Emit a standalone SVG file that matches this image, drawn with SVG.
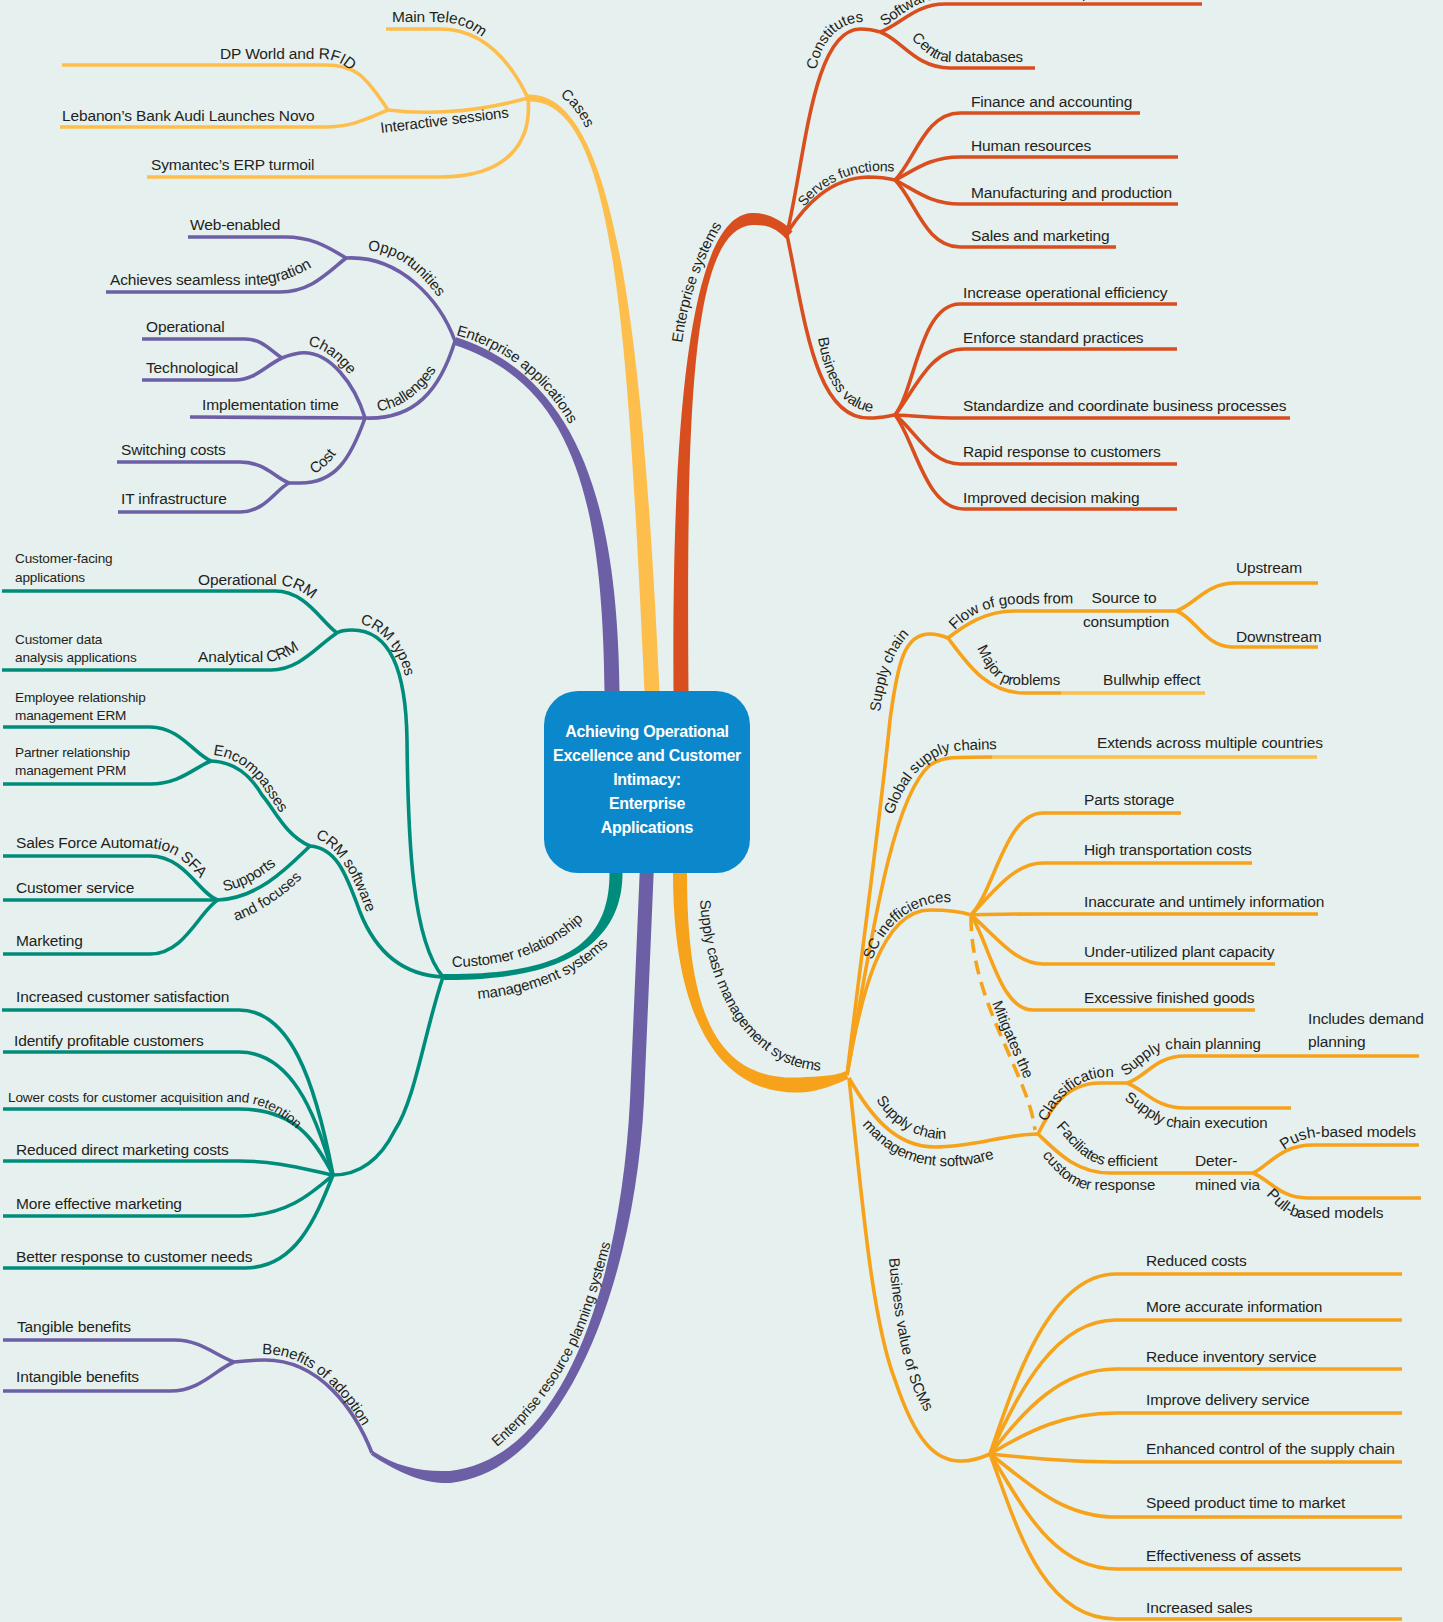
<svg xmlns="http://www.w3.org/2000/svg" width="1443" height="1622" viewBox="0 0 1443 1622">
<style>
  text { font-family: "Liberation Sans", Arial, sans-serif; font-size: 15.5px; fill: #231f20; letter-spacing: -0.15px; }
  .lb { font-size: 15px; }
  .sm { font-size: 13.6px; }
  .root { font-weight: bold; font-size: 16px; fill: #ffffff; text-anchor: middle; letter-spacing: -0.3px; }
  .mid { text-anchor: middle; }
  .ln { fill: none; stroke-width: 3.6; }
  .y { stroke: #fdbe4b; }
  .r { stroke: #d94e1f; }
  .p { stroke: #6c5fa6; }
  .t { stroke: #008c7a; }
  .o { stroke: #f7a21b; }
  .dash { stroke-dasharray: 14 8; }
</style>
<defs>
  <path id="tp-cases" d="M560,96 C572,104 582,118 590,137 L598,157"/>
  <path id="tp-maintelecom" d="M392,22 L438,22 C470,22 492,40 510,72 L518,88"/>
  <path id="tp-dpworld" d="M220,59 L322,59 C335,59 345,65 352,72 L360,80"/>
  <path id="tp-interactive" d="M381,133 L520,116"/>
  <path id="tp-ea" d="M456,335 Q530,355 570,425 L590,465"/>
  <path id="tp-opp" d="M368,251 C394,250 422,270 448,312 L457,330"/>
  <path id="tp-chal" d="M378,411 C400,409 425,392 442,360 L450,342"/>
  <path id="tp-change" d="M308,346 C325,348 342,362 362,392 L372,410"/>
  <path id="tp-cost" d="M314,474 C326,468 336,456 345,440 L352,428"/>
  <path id="tp-achieves" d="M110,285 L250,285 C275,285 295,278 320,262 L330,255"/>
  <path id="tp-es" d="M682,343 C688,300 700,262 724,222 L735,208"/>
  <path id="tp-const" d="M816,70 C822,42 836,24 861,22 L891,23"/>
  <path id="tp-soft" d="M884,26 C900,18 915,-1 945,-2 L1230,-2"/>
  <path id="tp-central" d="M911,39 C922,47 930,62 952,62 L1045,62"/>
  <path id="tp-serves" d="M804,207 C819,189 840,174 873,171 L912,172"/>
  <path id="tp-bv" d="M818,338 C824,378 840,408 872,412 L902,411"/>
  <path id="tp-crm1" d="M452,967 C505,966 555,955 598,905 L606,893"/>
  <path id="tp-crm2" d="M478,999 C533,994 583,974 613,939 L621,928"/>
  <path id="tp-erp" d="M497,1447 C532,1418 570,1370 590,1312 C600,1282 608,1255 616,1222 L620,1205"/>
  <path id="tp-boa" d="M262,1354 C295,1354 320,1370 345,1400 C358,1418 366,1432 374,1446 L380,1458"/>
  <path id="tp-crmtypes" d="M360,624 C378,627 394,645 402,665 L412,700"/>
  <path id="tp-opcrm" d="M198,585 L275,585 C295,585 310,595 325,612 L332,622"/>
  <path id="tp-ancrm" d="M198,662 L262,662 C278,662 290,657 305,645 L312,638"/>
  <path id="tp-encomp" d="M213,755 C235,757 252,770 265,790 C275,805 283,818 292,827 L300,838"/>
  <path id="tp-crmsw" d="M315,838 C335,845 350,870 362,900 C367,915 372,925 382,935 L390,943"/>
  <path id="tp-supports" d="M224,891 C244,888 264,876 291,853 L299,845"/>
  <path id="tp-andfoc" d="M236,921 C258,913 283,898 309,871 L317,862"/>
  <path id="tp-sfa" d="M16,848 L148,848 C170,849 185,858 205,885 L212,896"/>
  <path id="tp-lower" d="M8,1102 L235,1102 C255,1102 275,1108 300,1132 L308,1142"/>
  <path id="tp-scm" d="M700,900 C703,960 725,1020 765,1050 C785,1065 805,1071 830,1071 L845,1071"/>
  <path id="tp-sc" d="M880,712 C884,680 893,648 912,632 C920,626 928,626 940,627 L950,627"/>
  <path id="tp-flow" d="M955,630 C967,617 985,606 1015,604 L1100,603"/>
  <path id="tp-major" d="M977,648 C985,665 995,684 1012,685 L1090,685"/>
  <path id="tp-global" d="M893,815 C902,790 915,768 938,756 C948,751 958,749 1030,749"/>
  <path id="tp-scineff" d="M872,960 C882,935 898,912 930,904 C948,900 962,903 978,909 L990,914"/>
  <path id="tp-scmsw1" d="M876,1100 C888,1118 905,1136 940,1139 L970,1138"/>
  <path id="tp-scmsw2" d="M862,1125 C880,1145 900,1163 940,1166 C965,1167 985,1162 1003,1155 L1012,1152"/>
  <path id="tp-mitig" d="M992,1003 C1002,1030 1014,1055 1027,1085 L1034,1100"/>
  <path id="tp-class" d="M1046,1122 C1058,1100 1076,1077 1108,1077 L1143,1077"/>
  <path id="tp-scplan" d="M1125,1076 C1140,1068 1150,1049 1175,1049 L1290,1049"/>
  <path id="tp-scexec" d="M1124,1100 C1140,1108 1152,1126 1178,1128 L1295,1128"/>
  <path id="tp-facil" d="M1056,1127 C1069,1140 1082,1165 1112,1166 L1182,1166"/>
  <path id="tp-custresp" d="M1042,1156 C1055,1170 1070,1190 1095,1190 L1170,1190"/>
  <path id="tp-push" d="M1284,1150 C1294,1143 1304,1137 1324,1137 L1434,1137"/>
  <path id="tp-pull" d="M1266,1195 C1275,1203 1283,1215 1300,1218 L1405,1218"/>
  <path id="tp-bvscm" d="M889,1258 C893,1310 901,1355 913,1388 C923,1412 935,1428 952,1440 L962,1446"/>
</defs>

<rect width="1443" height="1622" fill="#e6f0ee"/>

<g id="connectors">
  <!-- tapered main branches -->
  <path fill="#fdbe4b" d="M659.5,700 L659.5,691 C642.5,329.6 614.9,91.5 527.9,94.5 L528.1,101.5 C615.1,98.5 627.5,330.4 644.5,691 L644.5,700 Z"/>
  <path fill="#d94e1f" d="M688.5,700 L688.5,691 C686.5,420 690.3,228 752.3,225 C768.4,224 778.5,230.5 785.5,238.5 L792.5,231.5 C785.5,222.5 767.6,212 751.7,213 C689.7,216 671.5,420 673.5,691 L673.5,700 Z"/>
  <path fill="#6c5fa6" d="M619.5,700 L619.5,691 C617.5,500 576.2,376.2 456.2,337.2 L453.8,344.8 C573.8,383.8 602.5,500 604.5,691 L604.5,700 Z"/>
  <path fill="#008c7a" d="M609.5,865 L609.5,873 C609.5,940 570,975 443,974 L443,980 C570,981 622.5,940 622.5,873 L622.5,865 Z"/>
  <path fill="#6c5fa6" d="M640,865 L630,1100 C621,1280 564.4,1459 449.6,1471 C419.8,1472 396.1,1466.3 373.1,1451.3 L370.9,1454.7 C393.9,1469.7 420.2,1484 450.4,1483 C565.6,1471 635,1280 644,1100 L654,865 Z"/>
  <path fill="#f7a21b" d="M673,865 L673,873 C673,1020 720.3,1095.5 800.3,1092.5 C820.4,1091.5 836.5,1083.7 848.5,1078.7 L845.5,1071.3 C833.5,1076.3 819.6,1076.5 799.7,1077.5 C719.7,1080.5 687,1020 687,873 L687,865 Z"/>

  <!-- cases -->
  <path class="ln y" d="M528,98 C505,50 475,29 440,29 L386,29"/>
  <path class="ln y" d="M528,98 C470,114 420,114 388,110"/>
  <path class="ln y" d="M388,110 C365,75 355,65 325,65 L62,65"/>
  <path class="ln y" d="M388,110 C365,120 350,127 325,127 L60,127"/>
  <path class="ln y" d="M528,98 C532,140 510,177 440,177 L147,177"/>

  <!-- enterprise applications -->
  <path class="ln p" d="M455,341 C440,300 400,255 346,258"/>
  <path class="ln p" d="M346,258 C325,245 310,237 285,237 L188,237"/>
  <path class="ln p" d="M346,258 C325,275 310,292 280,292 L106,292"/>
  <path class="ln p" d="M455,341 C440,390 415,420 365,418"/>
  <path class="ln p" d="M365,418 C355,385 330,350 300,353 C292,354 287,356 282,358"/>
  <path class="ln p" d="M282,358 C270,350 262,339 245,339 L142,339"/>
  <path class="ln p" d="M282,358 C265,366 255,380 235,380 L142,380"/>
  <path class="ln p" d="M365,418 L190,417"/>
  <path class="ln p" d="M365,418 C350,460 335,483 300,483 L289,483"/>
  <path class="ln p" d="M289,483 C275,478 265,462 240,462 L117,462"/>
  <path class="ln p" d="M289,483 C275,490 265,512 240,512 L118,512"/>

  <!-- enterprise systems -->
  <path class="ln r" d="M787,233 C805,160 812,30 860,29 C868,29 874,30 880,32"/>
  <path class="ln r" d="M880,32 C900,25 915,4 945,4 L1202,4"/>
  <path class="ln r" d="M880,32 C900,38 915,68 950,68 L1035,68"/>
  <path class="ln r" d="M787,233 C805,205 830,178 868,177 C878,177 887,178 895,180"/>
  <path class="ln r" d="M895,180 C915,160 925,113 960,113 L1140,113"/>
  <path class="ln r" d="M895,180 C915,170 930,157 960,157 L1178,157"/>
  <path class="ln r" d="M895,180 C915,190 930,204 960,204 L1178,204"/>
  <path class="ln r" d="M895,180 C915,200 925,247 960,247 L1116,247"/>
  <path class="ln r" d="M787,235 C805,320 815,420 870,418 C880,418 888,416 895,415"/>
  <path class="ln r" d="M895,415 C915,390 920,304 960,304 L1177,304"/>
  <path class="ln r" d="M895,415 C915,390 930,349 964,349 L1177,349"/>
  <path class="ln r" d="M895,415 C920,416 935,418 960,418 L1290,418"/>
  <path class="ln r" d="M895,415 C915,430 930,464 960,464 L1177,464"/>
  <path class="ln r" d="M895,415 C915,440 925,509 964,509 L1177,509"/>

  <!-- customer relationship management -->
  <path class="ln t" d="M443,977 C412,940 408,840 407,740 C406,670 390,630 352,630 C345,630 340,631 337,633"/>
  <path class="ln t" d="M337,633 C320,620 305,591 275,591 L2,591"/>
  <path class="ln t" d="M337,633 C318,645 300,670 271,670 L2,670"/>
  <path class="ln t" d="M443,977 C400,975 375,950 360,912 C345,870 335,848 310,846"/>
  <path class="ln t" d="M310,846 C285,835 275,810 262,795 C250,775 235,762 211,761"/>
  <path class="ln t" d="M211,761 C195,755 180,727 150,727 L3,727"/>
  <path class="ln t" d="M211,761 C195,767 180,784 150,784 L3,784"/>
  <path class="ln t" d="M310,846 C290,865 260,898 218,900"/>
  <path class="ln t" d="M218,900 C200,895 185,856 150,856 L3,856"/>
  <path class="ln t" d="M218,900 L3,900"/>
  <path class="ln t" d="M218,900 C200,910 185,954 150,954 L3,954"/>
  <path class="ln t" d="M443,977 C425,1030 415,1100 395,1130 C380,1160 360,1175 333,1175"/>
  <path class="ln t" d="M333,1175 C315,1080 290,1010 239,1010 L2,1010"/>
  <path class="ln t" d="M333,1175 C315,1110 290,1052 239,1052 L3,1052"/>
  <path class="ln t" d="M333,1175 C315,1140 295,1109 239,1109 L3,1109"/>
  <path class="ln t" d="M333,1175 C300,1168 275,1161 239,1161 L3,1161"/>
  <path class="ln t" d="M333,1175 C310,1195 285,1216 239,1216 L3,1216"/>
  <path class="ln t" d="M333,1175 C315,1220 295,1268 245,1268 L3,1268"/>

  <!-- enterprise resource planning -->
  <path class="ln p" d="M372,1453 C355,1410 320,1360 265,1360 C250,1360 242,1361 234,1362"/>
  <path class="ln p" d="M234,1362 C215,1355 200,1340 175,1340 L3,1340"/>
  <path class="ln p" d="M234,1362 C215,1370 200,1391 170,1391 L3,1391"/>

  <!-- supply chain management -->
  <path class="ln o" d="M847,1075 C862,950 880,820 890,720 C898,660 905,634 930,634 C938,634 943,636 948,638"/>
  <path class="ln o" d="M948,638 C965,625 985,611 1015,611 L1176,611"/>
  <path class="ln o" d="M1176,611 C1195,605 1205,583 1236,583 L1318,583"/>
  <path class="ln o" d="M1176,611 C1195,617 1205,647 1232,647 L1318,647"/>
  <path class="ln o" d="M948,638 C965,660 985,693 1024,693 L1061,693"/>
  <path class="ln y" d="M1061,693 L1205,693"/>
  <path class="ln o" d="M847,1075 C870,950 890,800 930,765 C942,757 950,757 992,757"/>
  <path class="ln y" d="M992,757 L1317,757"/>
  <path class="ln o" d="M847,1075 C860,1000 880,910 930,910 C950,910 962,912 971,915"/>
  <path class="ln o" d="M971,915 C995,890 1005,813 1043,813 L1181,813"/>
  <path class="ln o" d="M971,915 C995,890 1015,863 1043,863 L1252,863"/>
  <path class="ln o" d="M971,915 C990,914 1000,914 1043,914 L1318,914"/>
  <path class="ln o" d="M971,915 C995,935 1015,964 1043,964 L1275,964"/>
  <path class="ln o" d="M971,915 C990,945 1000,1010 1033,1010 L1255,1010"/>
  <path class="ln o dash" d="M971,917 C971,960 985,1000 1005,1045 C1020,1080 1032,1105 1035,1130"/>
  <path class="ln o" d="M849,1078 C870,1115 895,1147 935,1147 C975,1147 1005,1134 1038,1134"/>
  <path class="ln o" d="M1038,1134 C1050,1110 1065,1083 1100,1083 L1127,1083"/>
  <path class="ln o" d="M1127,1083 C1145,1078 1155,1056 1185,1056 L1419,1056"/>
  <path class="ln o" d="M1127,1083 C1145,1090 1155,1108 1185,1108 L1291,1108"/>
  <path class="ln o" d="M1038,1134 C1055,1150 1075,1173 1110,1173 L1253,1173"/>
  <path class="ln o" d="M1253,1173 C1270,1165 1280,1145 1313,1145 L1419,1145"/>
  <path class="ln o" d="M1253,1173 C1270,1180 1280,1198 1307,1198 L1421,1198"/>
  <path class="ln o" d="M849,1078 C862,1200 872,1320 895,1380 C915,1440 935,1462 962,1461 C975,1461 983,1457 990,1454"/>
  <path class="ln o" d="M990,1454 C1015,1380 1050,1274 1116,1274 L1402,1274"/>
  <path class="ln o" d="M990,1454 C1020,1390 1055,1320 1116,1320 L1402,1320"/>
  <path class="ln o" d="M990,1454 C1025,1410 1060,1369 1116,1369 L1402,1369"/>
  <path class="ln o" d="M990,1454 C1030,1430 1065,1413 1116,1413 L1402,1413"/>
  <path class="ln o" d="M990,1454 C1030,1458 1070,1462 1116,1462 L1402,1462"/>
  <path class="ln o" d="M990,1454 C1025,1480 1060,1517 1116,1517 L1402,1517"/>
  <path class="ln o" d="M990,1454 C1020,1500 1050,1569 1116,1569 L1402,1569"/>
  <path class="ln o" d="M990,1454 C1015,1520 1040,1619 1116,1619 L1402,1619"/>
</g>

<g id="node-root">
  <rect x="544" y="691" width="206" height="182" rx="34" fill="#0a88cb"/>
  <text class="root" x="647" y="737">Achieving Operational</text>
  <text class="root" x="647" y="761">Excellence and Customer</text>
  <text class="root" x="647" y="785">Intimacy:</text>
  <text class="root" x="647" y="809">Enterprise</text>
  <text class="root" x="647" y="833">Applications</text>
</g>

<!-- cases -->
<g id="node-cases"><text class="lb"><textPath href="#tp-cases">Cases</textPath></text></g>
<g id="node-main-telecom"><text><textPath href="#tp-maintelecom">Main Telecom</textPath></text></g>
<g id="node-interactive"><text class="lb"><textPath href="#tp-interactive">Interactive sessions</textPath></text></g>
<g id="node-dp-world"><text><textPath href="#tp-dpworld">DP World and RFID</textPath></text></g>
<g id="node-lebanon"><text x="62" y="121">Lebanon’s Bank Audi Launches Novo</text></g>
<g id="node-symantec"><text x="151" y="170">Symantec’s ERP turmoil</text></g>

<!-- enterprise applications -->
<g id="node-ea"><text class="lb"><textPath href="#tp-ea">Enterprise applications</textPath></text></g>
<g id="node-opportunities"><text class="lb"><textPath href="#tp-opp">Opportunities</textPath></text></g>
<g id="node-web-enabled"><text x="190" y="230">Web-enabled</text></g>
<g id="node-seamless"><text><textPath href="#tp-achieves">Achieves seamless integration</textPath></text></g>
<g id="node-challenges"><text class="lb"><textPath href="#tp-chal">Challenges</textPath></text></g>
<g id="node-change"><text class="lb"><textPath href="#tp-change">Change</textPath></text></g>
<g id="node-operational"><text x="146" y="332">Operational</text></g>
<g id="node-technological"><text x="146" y="373">Technological</text></g>
<g id="node-implementation"><text x="202" y="410">Implementation time</text></g>
<g id="node-cost"><text class="lb"><textPath href="#tp-cost">Cost</textPath></text></g>
<g id="node-switching"><text x="121" y="455">Switching costs</text></g>
<g id="node-it-infra"><text x="121" y="504">IT infrastructure</text></g>

<!-- enterprise systems -->
<g id="node-es"><text class="lb"><textPath href="#tp-es">Enterprise systems</textPath></text></g>
<g id="node-constitutes"><text class="lb"><textPath href="#tp-const">Constitutes</textPath></text></g>
<g id="node-software"><text class="lb"><textPath href="#tp-soft">Software modules for business processes</textPath></text></g>
<g id="node-central-db"><text class="lb"><textPath href="#tp-central">Central databases</textPath></text></g>
<g id="node-serves"><text style="font-size:14px"><textPath href="#tp-serves">Serves functions</textPath></text></g>
<g id="node-finance"><text x="971" y="107">Finance and accounting</text></g>
<g id="node-hr"><text x="971" y="151">Human resources</text></g>
<g id="node-manufacturing"><text x="971" y="198">Manufacturing and production</text></g>
<g id="node-sales"><text x="971" y="241">Sales and marketing</text></g>
<g id="node-es-value"><text class="lb"><textPath href="#tp-bv">Business value</textPath></text></g>
<g id="node-efficiency"><text x="963" y="298">Increase operational efficiency</text></g>
<g id="node-practices"><text x="963" y="343">Enforce standard practices</text></g>
<g id="node-standardize"><text x="963" y="411">Standardize and coordinate business processes</text></g>
<g id="node-rapid"><text x="963" y="457">Rapid response to customers</text></g>
<g id="node-decision"><text x="963" y="503">Improved decision making</text></g>

<!-- customer relationship management -->
<g id="node-crm">
  <text class="lb"><textPath href="#tp-crm1">Customer relationship</textPath></text>
  <text class="lb"><textPath href="#tp-crm2">management systems</textPath></text>
</g>
<g id="node-crm-types"><text class="lb"><textPath href="#tp-crmtypes">CRM types</textPath></text></g>
<g id="node-op-crm"><text><textPath href="#tp-opcrm">Operational CRM</textPath></text></g>
<g id="node-an-crm"><text><textPath href="#tp-ancrm">Analytical CRM</textPath></text></g>
<g id="node-facing"><text class="sm" x="15" y="563">Customer-facing</text><text class="sm" x="15" y="582">applications</text></g>
<g id="node-data-analysis"><text class="sm" x="15" y="644">Customer data</text><text class="sm" x="15" y="662">analysis applications</text></g>
<g id="node-crm-software"><text class="lb"><textPath href="#tp-crmsw">CRM software</textPath></text></g>
<g id="node-encompasses"><text class="lb"><textPath href="#tp-encomp">Encompasses</textPath></text></g>
<g id="node-erm"><text class="sm" x="15" y="702">Employee relationship</text><text class="sm" x="15" y="720">management ERM</text></g>
<g id="node-prm"><text class="sm" x="15" y="757">Partner relationship</text><text class="sm" x="15" y="775">management PRM</text></g>
<g id="node-supports">
  <text class="lb"><textPath href="#tp-supports">Supports</textPath></text>
  <text class="lb"><textPath href="#tp-andfoc">and focuses</textPath></text>
</g>
<g id="node-sfa"><text><textPath href="#tp-sfa">Sales Force Automation SFA</textPath></text></g>
<g id="node-service"><text x="16" y="893">Customer service</text></g>
<g id="node-marketing"><text x="16" y="946">Marketing</text></g>
<g id="node-satisfaction"><text x="16" y="1002">Increased customer satisfaction</text></g>
<g id="node-profitable"><text x="14" y="1046">Identify profitable customers</text></g>
<g id="node-lower-costs"><text class="sm"><textPath href="#tp-lower">Lower costs for customer acquisition and retention</textPath></text></g>
<g id="node-reduced-direct"><text x="16" y="1155">Reduced direct marketing costs</text></g>
<g id="node-effective"><text x="16" y="1209">More effective marketing</text></g>
<g id="node-better"><text x="16" y="1262">Better response to customer needs</text></g>

<!-- enterprise resource planning -->
<g id="node-erp"><text style="font-size:14.5px"><textPath href="#tp-erp">Enterprise resource planning systems</textPath></text></g>
<g id="node-adoption"><text class="lb"><textPath href="#tp-boa">Benefits of adoption</textPath></text></g>
<g id="node-tangible"><text x="17" y="1332">Tangible benefits</text></g>
<g id="node-intangible"><text x="16" y="1382">Intangible benefits</text></g>

<!-- supply chain management -->
<g id="node-scm"><text class="lb"><textPath href="#tp-scm">Supply cash management systems</textPath></text></g>
<g id="node-supply-chain"><text class="lb"><textPath href="#tp-sc">Supply chain</textPath></text></g>
<g id="node-flow"><text class="lb"><textPath href="#tp-flow">Flow of goods from</textPath></text></g>
<g id="node-source"><text class="mid" x="1124" y="603">Source to</text><text class="mid" x="1126" y="627">consumption</text></g>
<g id="node-upstream"><text x="1236" y="573">Upstream</text></g>
<g id="node-downstream"><text x="1236" y="642">Downstream</text></g>
<g id="node-major"><text class="lb"><textPath href="#tp-major">Major problems</textPath></text></g>
<g id="node-bullwhip"><text x="1103" y="685">Bullwhip effect</text></g>
<g id="node-global"><text class="lb"><textPath href="#tp-global">Global supply chains</textPath></text></g>
<g id="node-countries"><text x="1097" y="748">Extends across multiple countries</text></g>
<g id="node-inefficiences"><text class="lb"><textPath href="#tp-scineff">SC inefficiences</textPath></text></g>
<g id="node-parts"><text x="1084" y="805">Parts storage</text></g>
<g id="node-transport"><text x="1084" y="855">High transportation costs</text></g>
<g id="node-inaccurate"><text x="1084" y="907">Inaccurate and untimely information</text></g>
<g id="node-under"><text x="1084" y="957">Under-utilized plant capacity</text></g>
<g id="node-excessive"><text x="1084" y="1003">Excessive finished goods</text></g>
<g id="node-mitigates"><text class="lb"><textPath href="#tp-mitig">Mitigates the</textPath></text></g>
<g id="node-scm-software">
  <text class="lb"><textPath href="#tp-scmsw1">Supply chain</textPath></text>
  <text class="lb"><textPath href="#tp-scmsw2">management software</textPath></text>
</g>
<g id="node-classification"><text class="lb"><textPath href="#tp-class">Classification</textPath></text></g>
<g id="node-planning"><text class="lb"><textPath href="#tp-scplan">Supply chain planning</textPath></text></g>
<g id="node-demand"><text x="1308" y="1024">Includes demand</text><text x="1308" y="1047">planning</text></g>
<g id="node-execution"><text class="lb"><textPath href="#tp-scexec">Supply chain execution</textPath></text></g>
<g id="node-efficient">
  <text class="lb"><textPath href="#tp-facil">Faciliates efficient</textPath></text>
  <text class="lb"><textPath href="#tp-custresp">customer response</textPath></text>
</g>
<g id="node-determined"><text x="1195" y="1166">Deter-</text><text x="1195" y="1190">mined via</text></g>
<g id="node-push"><text><textPath href="#tp-push">Push-based models</textPath></text></g>
<g id="node-pull"><text><textPath href="#tp-pull">Pull-based models</textPath></text></g>
<g id="node-scm-value"><text class="lb"><textPath href="#tp-bvscm">Business value of SCMs</textPath></text></g>
<g id="node-reduced-costs"><text x="1146" y="1266">Reduced costs</text></g>
<g id="node-accurate"><text x="1146" y="1312">More accurate information</text></g>
<g id="node-inventory"><text x="1146" y="1362">Reduce inventory service</text></g>
<g id="node-delivery"><text x="1146" y="1405">Improve delivery service</text></g>
<g id="node-control"><text x="1146" y="1454">Enhanced control of the supply chain</text></g>
<g id="node-speed"><text x="1146" y="1508">Speed product time to market</text></g>
<g id="node-assets"><text x="1146" y="1561">Effectiveness of assets</text></g>
<g id="node-sales-up"><text x="1146" y="1613">Increased sales</text></g>
</svg>
